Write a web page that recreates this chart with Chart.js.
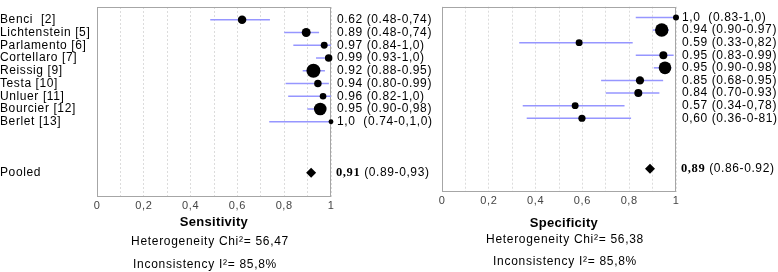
<!DOCTYPE html>
<html><head><meta charset="utf-8">
<script src="https://cdn.jsdelivr.net/npm/chart.js@4.4.1/dist/chart.umd.min.js"></script>
<style>
html,body{margin:0;padding:0;background:#fff;}
body{width:778px;height:272px;overflow:hidden;position:relative;font-family:"Liberation Sans",Arial,sans-serif;}
canvas{position:absolute;top:0;}
.t{position:absolute;width:220px;text-align:center;color:#000;white-space:nowrap;line-height:16px;font-size:12px;letter-spacing:0.7px;}
.b{font-weight:bold;font-size:13px;letter-spacing:0.3px;}
</style></head><body>
<canvas id="c1" width="440" height="215" style="left:0px"></canvas>
<canvas id="c2" width="344" height="210" style="left:434px"></canvas>
<div class="t b" style="left:104px;top:214px">Sensitivity</div>
<div class="t" style="left:100px;top:233px">Heterogeneity Chi²= 56,47</div>
<div class="t" style="left:95px;top:256px">Inconsistency I²= 85,8%</div>
<div class="t b" style="left:454px;top:215px">Specificity</div>
<div class="t" style="left:455px;top:231px">Heterogeneity Chi²= 56,38</div>
<div class="t" style="left:455px;top:253px">Inconsistency I²= 85,8%</div>
<script>
// ---- data ----
const studies = ["Benci  [2]", "Lichtenstein [5]", "Parlamento [6]", "Cortellaro [7]", "Reissig [9]", "Testa [10]", "Unluer [11]", "Bourcier [12]", "Berlet [13]"];
const pooledName = "Pooled";

const sensEst = [0.62, 0.894, 0.971, 0.99, 0.925, 0.944, 0.966, 0.954, 1.0];
const sensLo  = [0.484, 0.80, 0.839, 0.936, 0.879, 0.806, 0.817, 0.899, 0.736];
const sensHi  = [0.739, 0.949, 1.0, 1.0, 0.974, 0.991, 1.0, 0.979, 1.0];
const sensWeight = [18, 20, 12, 14, 49, 14, 11, 40, 6];
const sensPooled = 0.915;
const sensLabels = ["0.62 (0.48-0,74)", "0.89 (0.48-0,74)", "0.97 (0.84-1,0)", "0.99 (0.93-1,0)", "0.92 (0.88-0.95)", "0.94 (0.80-0.99)", "0.96 (0.82-1,0)", "0.95 (0.90-0,98)", "1,0  (0.74-0,1,0)"];
const sensPooledBold = "0,91";
const sensPooledCI = " (0.89-0,93)";

const specEst = [1.0, 0.939, 0.586, 0.946, 0.953, 0.846, 0.839, 0.569, 0.598];
const specLo  = [0.828, 0.90, 0.33, 0.828, 0.905, 0.68, 0.70, 0.345, 0.362];
const specHi  = [1.0, 0.97, 0.815, 0.99, 0.98, 0.945, 0.929, 0.78, 0.808];
const specWeight = [9, 45, 12, 16, 40, 17, 16, 12, 13];
const specPooled = 0.889;
const specLabels = ["1,0  (0.83-1,0)", "0.94 (0.90-0.97)", "0.59 (0.33-0,82)", "0.95 (0.83-0.99)", "0.95 (0.90-0.98)", "0.85 (0.68-0.95)", "0.84 (0.70-0.93)", "0.57 (0.34-0,78)", "0,60 (0.36-0-81)"];
const specPooledBold = "0,89";
const specPooledCI = " (0.86-0.92)";

const xTickLabels = ["0", "0,2", "0,4", "0,6", "0,8", "1"];

// ---- layout helpers ----
const POOLED_ROW = studies.length + 3;
const studyRows = studies.map((_, i) => i);
const allRows = studyRows.concat([POOLED_ROW]);
const CI_COLOR = "rgb(150,150,255)";
const FONT = '"Liberation Sans", Arial, sans-serif';
const SPACING = "0.6px";
Chart.defaults.font.family = FONT;
Chart.defaults.color = "#000";

function zeroPad(s) { s.paddingTop = 0; s.paddingBottom = 0; s.paddingLeft = 0; s.paddingRight = 0; }

const spacing = {
  id: "spacing",
  beforeLayout(chart) { chart.ctx.letterSpacing = SPACING; },
  beforeDraw(chart) { chart.ctx.letterSpacing = SPACING; }
};
const frame = {
  id: "frame",
  beforeDatasetsDraw(chart) {
    const { ctx, chartArea: a } = chart;
    ctx.save();
    ctx.strokeStyle = "#a6a6a6";
    ctx.lineWidth = 1;
    ctx.strokeRect(Math.round(a.left) + 0.5, Math.round(a.top) + 0.5, Math.round(a.right - a.left) - 1, Math.round(a.bottom - a.top) - 1);
    ctx.restore();
  }
};
const pooledLabel = {
  id: "pooledLabel",
  afterDraw(chart, args, o) {
    const { ctx, chartArea: a, scales } = chart;
    const y = scales.y.getPixelForValue(POOLED_ROW);
    ctx.save();
    ctx.letterSpacing = SPACING;
    ctx.textBaseline = "middle";
    ctx.textAlign = "left";
    ctx.fillStyle = "#000";
    ctx.font = 'bold 12.5px "Liberation Serif", serif';
    const x0 = a.right + o.dx;
    ctx.fillText(o.bold, x0, y);
    const w = ctx.measureText(o.bold).width;
    ctx.font = "12px " + FONT;
    ctx.fillText(o.rest, x0 + w, y);
    ctx.restore();
  }
};

function buildDatasets(est, lo, hi, weight, pooled) {
  const ds = [];
  ds.push({
    data: est.map((v, i) => ({ x: v, y: studyRows[i] })),
    pointRadius: weight.map(w => Math.sqrt(w)),
    pointHoverRadius: weight.map(w => Math.sqrt(w)),
    backgroundColor: "#000", borderColor: "#000", pointBorderWidth: 0,
    clip: false, order: 0
  });
  ds.push({
    data: [{ x: pooled, y: POOLED_ROW }],
    pointStyle: "rectRot", pointRadius: 5, pointHoverRadius: 5,
    backgroundColor: "#000", borderColor: "#000", pointBorderWidth: 0,
    clip: false, order: 0
  });
  est.forEach((_, i) => ds.push({
    data: [{ x: lo[i], y: studyRows[i] }, { x: hi[i], y: studyRows[i] }],
    showLine: true, pointRadius: 0, pointHoverRadius: 0,
    borderColor: CI_COLOR, backgroundColor: CI_COLOR, borderWidth: 1.5, clip: false, order: 1
  }));
  return ds;
}

function makeChart(id, cfg) {
  const canvas = document.getElementById(id);
  return new Chart(canvas, {
    type: "scatter",
    data: { datasets: buildDatasets(cfg.est, cfg.lo, cfg.hi, cfg.weight, cfg.pooled) },
    plugins: [spacing, frame, pooledLabel],
    options: {
      responsive: false, animation: false, devicePixelRatio: 1,
      events: [],
      layout: { padding: { top: cfg.top, left: cfg.padLeft, right: 0, bottom: 0 } },
      plugins: {
        legend: { display: false }, tooltip: { enabled: false },
        pooledLabel: { bold: cfg.pooledBold, rest: cfg.pooledCI, dx: cfg.dx - 1 }
      },
      scales: {
        x: {
          type: "linear", min: 0, max: 1, position: "bottom",
          afterBuildTicks: s => { s.ticks = Array.from({ length: 11 }, (_, k) => ({ value: k / 10 })); },
          afterFit: s => { s.height = canvas.height - cfg.bottom; zeroPad(s); },
          ticks: {
            autoSkip: false, maxRotation: 0, padding: 2, color: "#444",
            font: { size: 11 },
            callback: v => { const k = Math.round(v * 10); return k % 2 === 0 ? xTickLabels[k / 2] : ""; }
          },
          grid: { color: "#dcdcdc", drawTicks: false, lineWidth: 1 },
          border: { display: false, dash: [2, 2] }
        },
        y: {
          type: "linear", reverse: true, min: cfg.ymin, max: cfg.ymax, position: "left",
          display: cfg.showNames,
          afterBuildTicks: s => { s.ticks = allRows.map(v => ({ value: v })); },
          afterFit: s => { s.width = cfg.padLeftAxis; zeroPad(s); },
          ticks: {
            autoSkip: false, crossAlign: "far", padding: 0, color: "#000",
            font: { size: 12 },
            callback: v => (v === POOLED_ROW ? pooledName : studies[v])
          },
          grid: { display: false, drawTicks: false },
          border: { display: false }
        },
        y2: {
          type: "linear", reverse: true, min: cfg.ymin, max: cfg.ymax, position: "right",
          afterBuildTicks: s => { s.ticks = studyRows.map(v => ({ value: v })); },
          afterFit: s => { s.width = cfg.rightAxis; zeroPad(s); },
          ticks: {
            autoSkip: false, crossAlign: "near", padding: cfg.dx, color: "#000",
            font: { size: 12 },
            callback: v => cfg.labels[v]
          },
          grid: { display: false, drawTicks: false },
          border: { display: false }
        }
      }
    }
  });
}

makeChart("c1", {
  est: sensEst, lo: sensLo, hi: sensHi, weight: sensWeight, pooled: sensPooled,
  labels: sensLabels, pooledBold: sensPooledBold, pooledCI: sensPooledCI,
  top: 6, bottom: 197, ymin: -1.0, ymax: 13.9, padLeft: 0, showNames: true, padLeftAxis: 97,
  rightAxis: 440 - 331, dx: 6
});
makeChart("c2", {
  est: specEst, lo: specLo, hi: specHi, weight: specWeight, pooled: specPooled,
  labels: specLabels, pooledBold: specPooledBold, pooledCI: specPooledCI,
  top: 3, bottom: 192, ymin: -0.85, ymax: 13.85, padLeft: 8, showNames: false, padLeftAxis: 0,
  rightAxis: 344 - 242, dx: 6
});
</script>
</body></html>
